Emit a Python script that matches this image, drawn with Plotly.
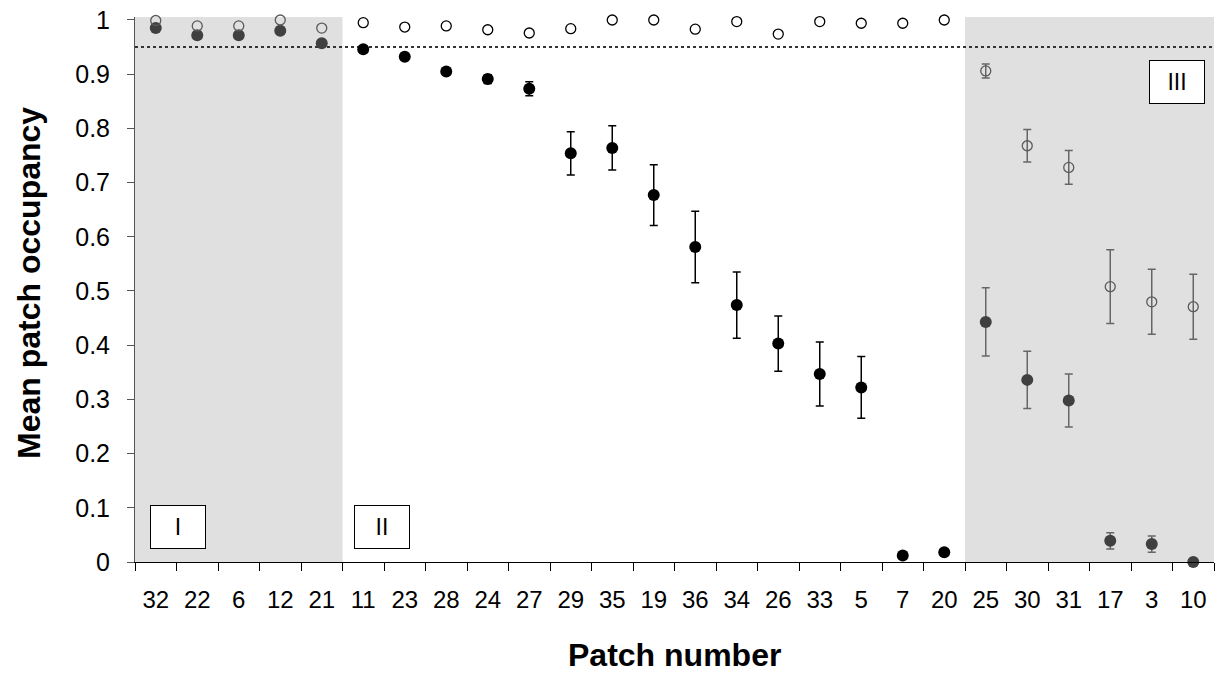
import plotly.graph_objects as go

# Patch order along the x axis
patches = ["32", "22", "6", "12", "21", "11", "23", "28", "24", "27", "29", "35", "19",
           "36", "34", "26", "33", "5", "7", "20", "25", "30", "31", "17", "3", "10"]

# Mean occupancy (filled circles) and its standard error
filled_mean = [0.985, 0.972, 0.972, 0.980, 0.957,
               0.946, 0.932, 0.905, 0.891, 0.873, 0.754, 0.764, 0.677, 0.581, 0.474,
               0.403, 0.347, 0.322, 0.012, 0.018,
               0.443, 0.336, 0.298, 0.039, 0.033, 0.000]
filled_se = [0, 0, 0, 0, 0,
             0.003, 0.004, 0.005, 0.008, 0.013, 0.040, 0.041, 0.056, 0.066, 0.061,
             0.051, 0.059, 0.057, 0, 0,
             0.063, 0.053, 0.049, 0.015, 0.015, 0]

# Mean occupancy (open circles) and its standard error
open_mean = [0.999, 0.989, 0.989, 1.000, 0.985,
             0.995, 0.987, 0.989, 0.982, 0.976, 0.984, 1.000, 1.000, 0.983, 0.997,
             0.974, 0.997, 0.994, 0.994, 1.000,
             0.906, 0.768, 0.728, 0.508, 0.480, 0.471]
open_se = [0, 0, 0, 0, 0,
           0, 0, 0, 0, 0, 0, 0, 0, 0, 0,
           0, 0, 0, 0, 0,
           0.013, 0.030, 0.031, 0.068, 0.060, 0.060]

# Zones: label, first index, last index, shaded
zone_labels = ["I", "II", "III"]
zone_start = [0, 5, 20]
zone_end = [4, 19, 25]
zone_shaded = [True, False, True]

threshold = 0.95
y_ticks = [0, 0.1, 0.2, 0.3, 0.4, 0.5, 0.6, 0.7, 0.8, 0.9, 1]
y_tick_text = ["0", "0.1", "0.2", "0.3", "0.4", "0.5", "0.6", "0.7", "0.8", "0.9", "1"]

FONT = "Liberation Sans, Arial, sans-serif"
YTOP = 1.0055

fig = go.Figure()


def add_series(idx, means, errs, marker, err_col):
    xs = [patches[i] for i in idx]
    # error bars only where a standard error exists
    eidx = [i for i in idx if errs[i] > 0]
    if eidx:
        fig.add_trace(go.Scatter(
            x=[patches[i] for i in eidx], y=[means[i] for i in eidx], mode="markers",
            marker=dict(size=1, color="rgba(0,0,0,0)"),
            error_y=dict(type="data", array=[errs[i] for i in eidx], visible=True,
                         color=err_col, thickness=1.5, width=4),
            showlegend=False, hoverinfo="skip", cliponaxis=False))
    fig.add_trace(go.Scatter(
        x=xs, y=[means[i] for i in idx], mode="markers", marker=marker,
        showlegend=False, hoverinfo="x+y", cliponaxis=False))


for zi, lab in enumerate(zone_labels):
    idx = list(range(zone_start[zi], zone_end[zi] + 1))
    shaded = zone_shaded[zi]
    fill_col = "#404040" if shaded else "#000000"
    open_col = "#5a5a5a" if shaded else "#000000"
    err_col = "#666666" if shaded else "#000000"
    add_series(idx, filled_mean, filled_se,
               dict(symbol="circle", size=12, color=fill_col, line=dict(width=0)), err_col)
    add_series(idx, open_mean, open_se,
               dict(symbol="circle-open", size=10, color=open_col, line=dict(width=1.3)),
               err_col)

shapes = []
for zi in range(len(zone_labels)):
    if zone_shaded[zi]:
        shapes.append(dict(type="rect", xref="x", yref="y",
                           x0=zone_start[zi] - 0.5, x1=zone_end[zi] + 0.5,
                           y0=0, y1=YTOP, fillcolor="#e0e0e0",
                           line=dict(width=0), layer="below"))
shapes.append(dict(type="line", xref="x", yref="y", x0=-0.5, x1=len(patches) - 0.5,
                   y0=threshold, y1=threshold,
                   line=dict(color="#333333", width=2, dash="dot"), layer="below"))

# Zone label boxes
box_pos = {"I": (0.54, 0.065), "II": (5.44, 0.065), "III": (24.62, 0.886)}
annotations = []
for lab in zone_labels:
    bx, by = box_pos[lab]
    annotations.append(dict(x=bx, y=by, xref="x", yref="y", text=lab, showarrow=False,
                            font=dict(family=FONT, size=23, color="#000000"),
                            bgcolor="#ffffff", bordercolor="#000000", borderwidth=1,
                            width=52, height=40, align="center", valign="middle"))

annotations.append(dict(x=0, y=0.512, xref="paper", yref="paper", xanchor="center",
                        yanchor="middle", xshift=-106, textangle=-90, showarrow=False,
                        text="<b>Mean patch occupancy</b>",
                        font=dict(family=FONT, size=32, color="#000000")))
annotations.append(dict(x=0.5, y=0, xref="paper", yref="paper", xanchor="center",
                        yanchor="middle", yshift=-93, showarrow=False,
                        text="<b>Patch number</b>",
                        font=dict(family=FONT, size=32, color="#000000")))

fig.update_layout(
    width=1218, height=678,
    margin=dict(l=135, r=4, t=17, b=116),
    paper_bgcolor="#ffffff", plot_bgcolor="#ffffff",
    shapes=shapes, annotations=annotations,
    font=dict(family=FONT, color="#000000"),
    xaxis=dict(type="category", categoryorder="array", categoryarray=patches,
               range=[-0.5, len(patches) - 0.5], tickson="boundaries",
               ticks="outside", ticklen=8, tickwidth=1, tickcolor="#000000",
               showline=True, linecolor="#000000", linewidth=1,
               showgrid=False, zeroline=False, ticklabelstandoff=16,
               tickfont=dict(family=FONT, size=24, color="#000000")),
    yaxis=dict(range=[0, YTOP], tickvals=y_ticks, ticktext=y_tick_text,
               ticks="outside", ticklen=7, tickwidth=1, tickcolor="#555555",
               showline=True, linecolor="#555555", linewidth=1,
               showgrid=False, zeroline=False, ticklabelstandoff=12,
               tickfont=dict(family=FONT, size=25, color="#000000")),
)

fig.write_html("out.html")
